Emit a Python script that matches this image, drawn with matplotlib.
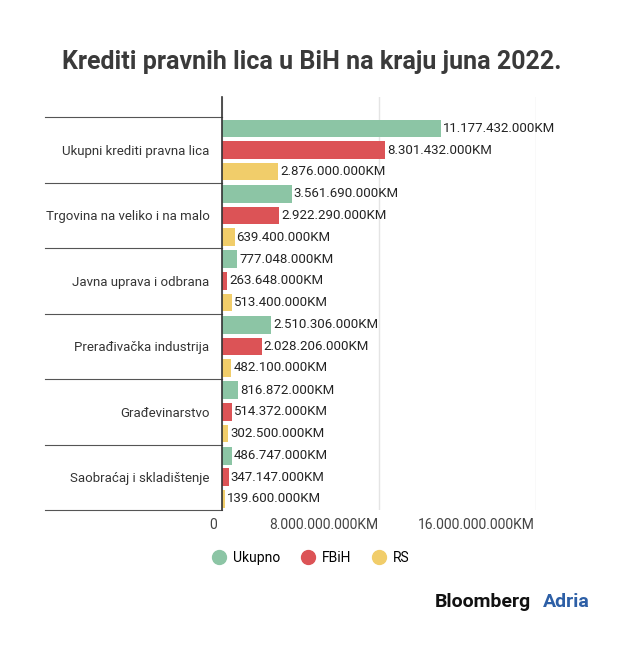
import matplotlib
matplotlib.use("Agg")
import matplotlib.pyplot as plt
from matplotlib.lines import Line2D

categories = ["Ukupni krediti pravna lica", "Trgovina na veliko i na malo", "Javna uprava i odbrana",
              "Prerađivačka industrija", "Građevinarstvo", "Saobraćaj i skladištenje"]
ukupno = [11177432000, 3561690000, 777048000, 2510306000, 816872000, 486747000]
fbih = [8301432000, 2922290000, 263648000, 2028206000, 514372000, 347147000]
rs = [2876000000, 639400000, 513400000, 482100000, 302500000, 139600000]
series = [("Ukupno", ukupno, "#8cc5a5"), ("FBiH", fbih, "#dc5356"), ("RS", rs, "#f1cd6a")]
xticks = [0, 8e9, 16e9]
xticklabels = ["0", "8.000.000.000KM", "16.000.000.000KM"]

def fmt(v):
    return f"{v:,}".replace(",", ".") + "KM"

plt.rcParams["font.family"] = "Roboto"
fig = plt.figure(figsize=(6.24, 6.47), dpi=100)
W, H = 624, 647
ax = fig.add_axes([222 / W, 1 - 510 / H, 314 / W, 413 / H])

offsets = [-0.33, 0.0, 0.33]
for (name, vals, col), off in zip(series, offsets):
    for i, v in enumerate(vals):
        y = i + 0.5 + off
        ax.barh(y, v, height=0.27, color=col, zorder=2)
        ax.text(v + 0.1e9, y, fmt(v), va="center", ha="left", fontsize=9.5, color="#222222")

ax.set_xlim(0, 16e9)
ax.set_ylim(6.0, -0.31)
ax.set_yticks([i + 0.5 for i in range(len(categories))])
ax.set_yticklabels(categories, fontsize=9.5, color="#333333")
ax.tick_params(axis="y", length=0, pad=9)
ax.set_xticks(xticks)
ax.set_xticklabels([])
ax.tick_params(axis="x", length=0)
for x, lab in zip(xticks, xticklabels):
    ax.text(x - 0.05e9 if x else -0.25e9, 6.12, lab, ha="right", va="top", fontsize=10, color="#444444")
ax.grid(axis="x", color="#e4e4e4", lw=1, zorder=0)
for s in ["top", "right", "bottom"]:
    ax.spines[s].set_visible(False)
ax.spines["left"].set_color("#333333")
ax.spines["left"].set_linewidth(1.2)

tr = ax.get_yaxis_transform()
for k in range(len(categories) + 1):
    ax.plot([-(222 - 45) / 314, 0], [k, k], transform=tr, color="#555555", lw=0.8, clip_on=False)

fig.text(0.5, 1 - 62 / H, "Krediti pravnih lica u BiH na kraju juna 2022.", ha="center", va="center",
         fontsize=18, fontweight="bold", color="#3a3a3a")

handles = [Line2D([], [], marker="o", ls="", ms=10, color=c, label=n) for n, _, c in series]
fig.legend(handles=handles, loc="center", bbox_to_anchor=(310 / W, 1 - 558 / H), ncol=3, frameon=False,
           fontsize=10, handletextpad=0.4, columnspacing=1.4, handlelength=1.2)

fig.text(435 / W, 1 - 602 / H, "Bloomberg", fontsize=14, fontweight="bold", color="#111111", va="center")
fig.text(543 / W, 1 - 602 / H, "Adria", fontsize=14, fontweight="bold", color="#2d5fa6", va="center")

fig.savefig("out.png", dpi=100, facecolor="white")
